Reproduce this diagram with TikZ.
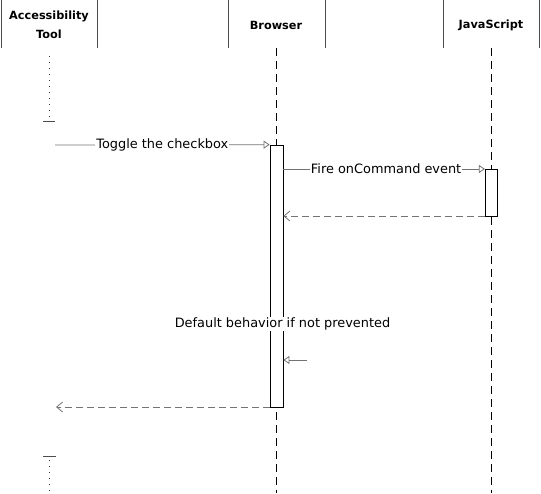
\documentclass[tikz,border=0pt]{standalone}
\usepackage{fontspec}
\setmainfont{DejaVu Sans}
\usetikzlibrary{arrows.meta}
\begin{document}
\begin{tikzpicture}[x=1pt,y=-1pt,
  side/.style={draw=black!70,line width=0.8pt},
  life/.style={draw=black,line width=0.7pt,dash pattern=on 8pt off 5pt},
  dotlife/.style={draw=black!80,line width=0.8pt,dash pattern=on 0.8pt off 5.2pt},
  bar/.style={draw=black!70,line width=1pt},
  act/.style={draw=black,fill=white,line width=0.7pt},
  call/.style={draw=black!55,line width=0.8pt,-{Triangle[open,length=6pt,width=8pt]}},
  ret/.style={draw=black!55,line width=0.8pt,dash pattern=on 7pt off 4pt,-{Straight Barb[length=6pt,width=10pt]}},
  msg/.style={fill=white,inner sep=1pt,font=\fontsize{12.9}{14}\selectfont},
  head/.style={font=\bfseries\fontsize{11.3}{19}\selectfont,align=center}
]
\useasboundingbox (0,0) rectangle (541,493);
% header side lines
\draw[side] (1,0) -- (1,48);
\draw[side] (97,0) -- (97,48);
\draw[side] (228,0) -- (228,48);
\draw[side] (325,0) -- (325,48);
\draw[side] (443,0) -- (443,48);
\draw[side] (539,0) -- (539,48);
\node[head] (acc) at (49,25) {Accessibility\\Tool};
\node[head] (brw) at (276,25) {Browser};
\node[head] (js) at (491,25) {JavaScript};
% lifelines
\coordinate (a1) at (49,56);
\coordinate (a2) at (49,119);
\draw[dotlife] (a1) -- (a2);
\draw[bar] (43,121) -- (55,121);
\draw[bar] (43,456) -- (56,456);
\coordinate (a3) at (49,460);
\coordinate (a4) at (49,493);
\draw[dotlife] (a3) -- (a4);
\coordinate (b1) at (276,48);
\coordinate (b2) at (276,493);
\draw[life] (b1) -- (b2);
\coordinate (j1) at (491,48);
\coordinate (j2) at (491,493);
\draw[life] (j1) -- (j2);
% activations
\node[act,minimum width=13pt,minimum height=262pt,inner sep=0pt] (bact) at (276.5,276) {};
\node[act,minimum width=12.5pt,minimum height=47pt,inner sep=0pt] (jact) at (491.5,192.5) {};
% messages
\coordinate (t0) at (55,145);
\draw[call] (t0) -- (bact.north west) node[msg,midway,xshift=0pt] {Toggle the checkbox};
\coordinate (f0) at (bact.east |- 0,169);
\coordinate (f1) at (jact.west |- 0,169);
\draw[call] (f0) -- (f1) node[msg,midway,xshift=2pt] {Fire onCommand event};
\coordinate (r0) at (jact.west |- 0,216);
\coordinate (r1) at (bact.east |- 0,216);
\draw[ret] (r0) -- (r1);
\node[msg] (dflt) at (282.5,324) {Default behavior if not prevented};
\coordinate (s0) at (307,360);
\coordinate (s1) at (bact.east |- 0,360);
\draw[call] (s0) -- (s1);
\coordinate (q0) at (bact.west |- 0,407);
\coordinate (q1) at (56,407);
\draw[ret] (q0) -- (q1);
\end{tikzpicture}
\end{document}
